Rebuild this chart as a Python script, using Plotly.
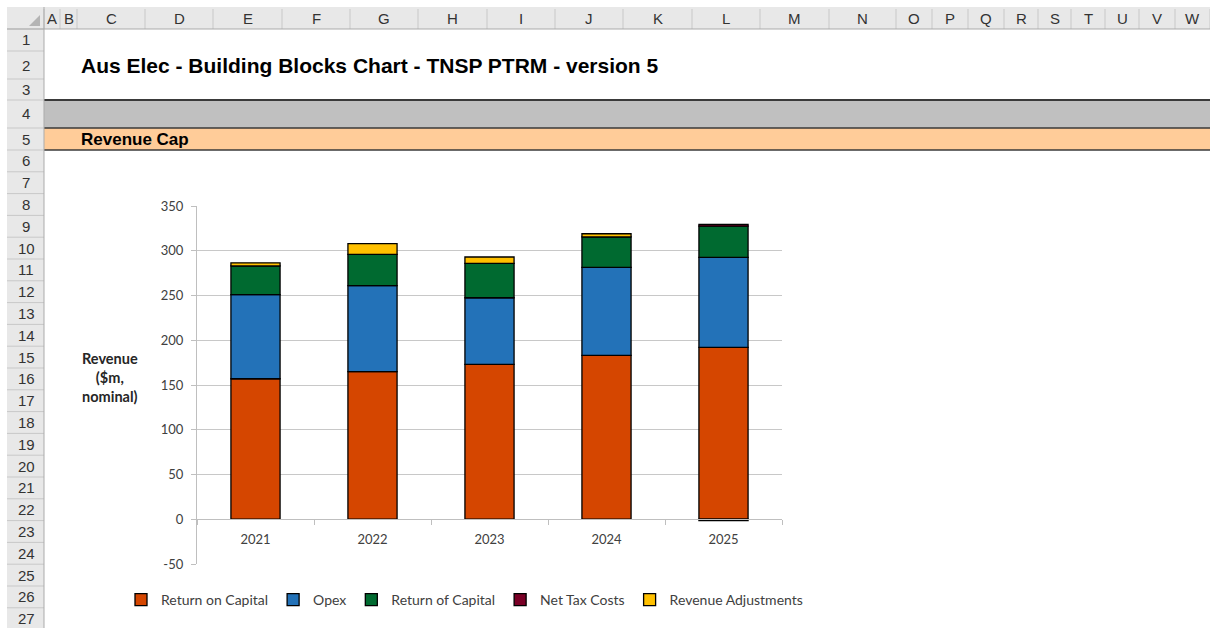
import plotly.graph_objects as go

# ---------------- data ----------------
years = ["2021", "2022", "2023", "2024", "2025"]
return_on_capital = [157, 165, 173, 183, 192]
opex = [94, 96, 74.5, 98.5, 100.5]
return_of_capital = [32, 35, 38.5, 34, 35]
net_tax_costs = [0, 0, 0, 0, 2]
revenue_adjustments = [3.5, 12, 7, 3.5, -1.5]

series_names = ["Return on Capital", "Opex", "Return of Capital", "Net Tax Costs", "Revenue Adjustments"]
series_values = [return_on_capital, opex, return_of_capital, net_tax_costs, revenue_adjustments]
series_colors = ["#D54600", "#2372B8", "#006A30", "#7A0026", "#FFC000"]

y_ticks = [-50, 0, 50, 100, 150, 200, 250, 300, 350]
y_tick_labels = ["-50", "0", "50", "100", "150", "200", "250", "300", "350"]

sheet_title = "Aus Elec - Building Blocks Chart - TNSP PTRM - version 5"
section_title = "Revenue Cap"
col_letters = ["A", "B", "C", "D", "E", "F", "G", "H", "I", "J", "K", "L", "M", "N",
               "O", "P", "Q", "R", "S", "T", "U", "V", "W"]
row_numbers = list(range(1, 28))

# ---------------- layout helpers (pixels -> paper) ----------------
W, H = 1210, 628
def px(x):
    return x / W
def py(y):
    return 1 - y / H

col_edges = [44, 60, 77, 145, 213, 282, 350, 418, 487, 555, 623, 692, 760, 829,
             896, 932, 968, 1004, 1038, 1071, 1105, 1139, 1175, 1210]
row_edges = [29, 51, 79, 100, 128, 150] + [150 + 21.8 * i for i in range(1, 23)]

fig = go.Figure()
for name, vals, col in zip(series_names, series_values, series_colors):
    fig.add_trace(go.Bar(
        x=years, y=vals, name=name,
        marker=dict(color=col, line=dict(color="#000000", width=1.3)),
    ))

shapes = []
annotations = []
HDR = "#E8E8E8"
SEP = "#C8C8C8"

shapes.append(dict(type="rect", xref="paper", yref="paper", x0=px(7), x1=px(1210),
                   y0=py(29), y1=py(7), fillcolor=HDR, line=dict(width=0), layer="below"))
shapes.append(dict(type="rect", xref="paper", yref="paper", x0=px(7), x1=px(44),
                   y0=py(628), y1=py(7), fillcolor=HDR, line=dict(width=0), layer="below"))
shapes.append(dict(type="rect", xref="paper", yref="paper", x0=px(44), x1=px(1210),
                   y0=py(128), y1=py(100), fillcolor="#C0C0C0", line=dict(width=0), layer="below"))
shapes.append(dict(type="rect", xref="paper", yref="paper", x0=px(44), x1=px(1210),
                   y0=py(150), y1=py(128), fillcolor="#FFCC99", line=dict(width=0), layer="below"))
for yy, wdt in [(100, 2), (128, 1.6), (150, 1.4)]:
    shapes.append(dict(type="line", xref="paper", yref="paper", x0=px(44), x1=px(1210),
                       y0=py(yy), y1=py(yy), line=dict(color="#3A3A3A", width=wdt), layer="below"))
for xe in col_edges:
    shapes.append(dict(type="line", xref="paper", yref="paper", x0=px(xe), x1=px(xe),
                       y0=py(29), y1=py(9), line=dict(color=SEP, width=1), layer="below"))
for ye in row_edges:
    shapes.append(dict(type="line", xref="paper", yref="paper", x0=px(7), x1=px(44),
                       y0=py(ye), y1=py(ye), line=dict(color=SEP, width=1), layer="below"))
shapes.append(dict(type="line", xref="paper", yref="paper", x0=px(7), x1=px(1210),
                   y0=py(29), y1=py(29), line=dict(color="#ABABAB", width=1), layer="below"))
shapes.append(dict(type="line", xref="paper", yref="paper", x0=px(44), x1=px(44),
                   y0=py(628), y1=py(7), line=dict(color="#ABABAB", width=1), layer="below"))
shapes.append(dict(type="path", xref="paper", yref="paper",
                   path=f"M {px(40)},{py(26)} L {px(40)},{py(15)} L {px(29)},{py(26)} Z",
                   fillcolor="#B4B4B4", line=dict(width=0), layer="below"))

hfont = dict(family="Liberation Sans, Arial", size=15, color="#333333")
for i, letter in enumerate(col_letters):
    cx = (col_edges[i] + col_edges[i + 1]) / 2
    annotations.append(dict(xref="paper", yref="paper", x=px(cx), y=py(18.5), text=letter,
                            showarrow=False, xanchor="center", yanchor="middle", font=hfont))
for i, r in enumerate(row_numbers):
    top = row_edges[i]
    bot = row_edges[i + 1] if i + 1 < len(row_edges) else top + 21.8
    cy = (top + bot) / 2
    annotations.append(dict(xref="paper", yref="paper", x=px(26), y=py(cy), text=str(r),
                            showarrow=False, xanchor="center", yanchor="middle", font=hfont))

annotations.append(dict(xref="paper", yref="paper", x=px(79), y=py(65),
                        text="<b>" + sheet_title + "</b>", showarrow=False,
                        xanchor="left", yanchor="middle",
                        font=dict(family="Liberation Sans, Arial", size=21, color="#000000")))
annotations.append(dict(xref="paper", yref="paper", x=px(79), y=py(139.5),
                        text="<b>" + section_title + "</b>", showarrow=False,
                        xanchor="left", yanchor="middle",
                        font=dict(family="Liberation Sans, Arial", size=17, color="#000000")))
annotations.append(dict(xref="paper", yref="paper", x=px(110), y=py(377),
                        text="<b>Revenue<br>($m,<br>nominal)</b>", showarrow=False,
                        xanchor="center", yanchor="middle", align="center",
                        font=dict(family="Lato", size=14.5, color="#262626")))

x0p, x1p, y_top, y_bot = 197, 782, 206, 564
ydom = [py(y_bot), py(y_top)]
ymin, ymax = -50, 350
zero_pos = ydom[0] + (0 - ymin) / (ymax - ymin) * (ydom[1] - ydom[0])

tick_font = dict(family="Lato", size=13, color="#404040")
fig.update_layout(
    width=W, height=H, autosize=False,
    margin=dict(l=0, r=0, t=0, b=0, pad=0, autoexpand=False),
    paper_bgcolor="white", plot_bgcolor="white",
    barmode="relative", bargap=0.58,
    shapes=shapes, annotations=annotations,
    xaxis=dict(domain=[px(x0p), px(x1p)], anchor="free", position=zero_pos,
               showline=True, linecolor="#BFBFBF", linewidth=1.3,
               ticks="outside", tickson="boundaries", ticklen=5, tickcolor="#BFBFBF",
               ticklabelstandoff=8, automargin=False,
               showgrid=False, tickfont=tick_font, type="category"),
    yaxis=dict(domain=ydom, range=[ymin, ymax], tickvals=y_ticks, ticktext=y_tick_labels,
               showline=True, linecolor="#BFBFBF", linewidth=1.3,
               ticks="outside", ticklen=5, tickcolor="#BFBFBF", automargin=False,
               ticklabelstandoff=5,
               showgrid=True, gridcolor="#C8C8C8", gridwidth=1.3, zeroline=False,
               tickfont=tick_font),
    legend=dict(orientation="h", x=px(121), y=py(600), xanchor="left", yanchor="middle",
                font=dict(family="Lato", size=14, color="#404040"),
                bgcolor="rgba(0,0,0,0)", traceorder="normal"),
    showlegend=True,
)

fig.write_html(
    "out.html",
    config={"displayModeBar": False},
    post_script="document.body.style.margin='0';document.body.style.padding='0';"
                "document.body.style.overflow='hidden';",
)
